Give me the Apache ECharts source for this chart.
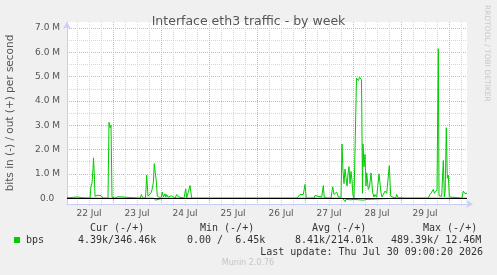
<!DOCTYPE html>
<html>
<head>
<meta charset="utf-8">
<script src="https://cdn.jsdelivr.net/npm/echarts/dist/echarts.min.js"></script>
<style>
  html, body { margin: 0; padding: 0; background: #f0f0f0; }
  #chart { width: 497px; height: 275px; }
</style>
</head>
<body>
<div id="chart"></div>
<script>
// x values are hours since 22 Jul 00:00, y values in Mbit/s
var dayLabels = ['22 Jul', '23 Jul', '24 Jul', '25 Jul', '26 Jul', '27 Jul', '28 Jul', '29 Jul'];
var dayLabelHours = [12, 36, 60, 84, 108, 132, 156, 180];
var dayLineHours = [24, 48, 72, 96, 120, 144, 168, 192];
var quarterLineHours = [6, 12, 18, 30, 36, 42, 54, 60, 66, 78, 84, 90, 102, 108, 114,
    126, 132, 138, 150, 156, 162, 174, 180, 186, 198];
var yTicks = [0, 1, 2, 3, 4, 5, 6, 7];
var yHalfTicks = [0.5, 1.5, 2.5, 3.5, 4.5, 5.5, 6.5];

// bits out (+)
var outTraffic = [
    [1, 0.03], [1.5, 0], [2.5, 0.02], [3.5, 0], [4.5, 0.04], [5.5, 0.03], [6.5, 0.05], [7, 0.03], [7.5, 0.08], [8, 0.02], [8.5, 0],
    [12.5, 0], [13, 0.5], [13.5, 0.63], [14, 1.2], [14.25, 1.66], [14.75, 0.77], [15, 0.08], [15.5, 0.02], [16, 0.1], [16.5, 0.12], [17, 0.05], [17.5, 0.12], [18, 0.1], [18.5, 0.03], [19, 0],
    [21.5, 0], [22, 3.12], [22.5, 2.9], [23, 3.0], [23.5, 0.05], [24, 0],
    [25, 0], [25.5, 0.07], [26, 0.02], [26.5, 0.06], [27, 0.06], [27.5, 0],
    [37.5, 0], [38.25, 0.15], [38.75, 0.02], [40.25, 0], [40.85, 0.95], [41.5, 0.08], [42, 0.05], [43, 0.22], [43.5, 0.35], [44.15, 0.63], [44.65, 1.42], [45.15, 1.04], [45.65, 0.7], [46.15, 0.08], [46.75, 0],
    [48, 0], [48.65, 0.25], [49.2, 0.05], [50, 0.18], [50.4, 0.05], [50.85, 0.15], [51.5, 0.04], [52.5, 0.06], [53.35, 0.1], [54, 0.03], [55, 0],
    [55.85, 0.15], [56.5, 0.06], [57.5, 0],
    [59.5, 0], [60.35, 0.38], [60.85, 0.01], [61.15, 0.08], [61.75, 0], [62.5, 0.52], [63.35, 0],
    [116, 0], [116.65, 0.05], [117.5, 0.15], [118.35, 0.08], [119.15, 0.15], [120, 0.56], [120.65, 0],
    [124.5, 0], [125, 0.11], [125.8, 0.03], [126.5, 0.08], [127, 0],
    [128.35, 0.05], [129.15, 0.52], [129.6, 0.04], [130, 0.08], [130.5, 0.02], [131, 0],
    [133, 0], [133.35, 0.08], [133.85, 0.47], [134.5, 0.15], [135.35, 0.22], [135.85, 0.25], [136.65, 0.05], [137.5, 0],
    [138, 0.04], [138.5, 2.23], [139, 1.1], [139.5, 0.6], [140, 1.2], [140.5, 0.85], [141, 0.5], [141.5, 1.0], [142, 1.3], [142.5, 0.6], [143, 1.1], [143.5, 0.75], [144, 0.1], [144.5, 0],
    [145.25, 0], [145.75, 4.94], [146.25, 4.92], [146.75, 4.84], [147.25, 4.98], [147.75, 4.9], [148.25, 4.87], [148.5, 4.94], [148.75, 0.2],
    [149, 2.23], [149.5, 1.3], [150, 1.8], [150.5, 0.5], [150.85, 1.04], [151.65, 0.36], [152.3, 0.5], [153, 1.04], [153.85, 0.22], [154.5, 0.05], [155, 0.15], [155.85, 0.04], [156.5, 0.05],
    [157, 1.0], [158, 0.22], [158.5, 0.05], [159.15, 0.1], [160, 0.29], [160.85, 0.2], [161.5, 0.25], [162.15, 1.34], [162.85, 0.08], [163.5, 0],
    [165.3, 0], [165.85, 0.15], [166.5, 0.02], [167, 0],
    [170.8, 0], [171.35, 0.06], [172, 0],
    [176, 0], [176.5, 0.04], [177, 0],
    [181.5, 0], [182, 0.06], [182.5, 0.15], [183.35, 0.25], [184.15, 0.36], [184.7, 0.2], [185.35, 0.22], [186, 0.35], [186.35, 0.3], [186.65, 6.15], [187, 0.1],
    [187.5, 0.12], [188.35, 0.08], [188.75, 0.1], [189.15, 1.55], [189.65, 0.05], [190.1, 0.3], [190.65, 2.9], [191.15, 0.82], [191.65, 0.95], [192.15, 0.05], [192.5, 0],
    [198.5, 0], [199.15, 0.29], [200, 0.19], [200.5, 0.25], [201, 0.2]
];

// bits in (-), drawn below zero
var inTraffic = [
    [1, 0], [1.5, 0.06], [2, 0], [7.5, 0], [8, 0.03], [8.5, 0], [14.8, 0], [15.2, 0.03], [15.6, 0],
    [22.2, 0], [22.8, 0.07], [23.3, 0], [44.3, 0], [44.8, 0.05], [45.4, 0.08], [45.9, 0], [48.6, 0], [49.1, 0.04], [49.6, 0],
    [138.8, 0], [139.15, 0.07], [139.6, 0.02], [140, 0.14], [140.5, 0.04], [141, 0.02], [142.5, 0.07], [143, 0.02], [144.2, 0.05],
    [145, 0.08], [149.15, 0.08], [149.6, 0.02], [151, 0.05], [151.5, 0],
    [166.1, 0], [166.35, 0.03], [166.8, 0], [171, 0], [171.35, 0.05], [171.8, 0],
    [186.5, 0], [186.9, 0.05], [187.3, 0], [191, 0], [191.3, 0.06], [191.8, 0], [201, 0]
];

var legendHeaders = ['Cur (-/+)', 'Min (-/+)', 'Avg (-/+)', 'Max (-/+)'];
var legendValues = ['4.39k/346.46k', '0.00 /  6.45k', '8.41k/214.01k', '489.39k/ 12.46M'];

function drawTraffic() {
    var myChart = echarts.init(document.getElementById('chart'));

    var green = '#00cc00';
    var axisBlue = '#c9cdf6';
    var majorGrid = { color: '#f0a8a8', width: 1, type: [1, 1] };
    var minorGrid = { color: '#d6d6d6', width: 1, type: [1, 1] };
    var mono = 'DejaVu Sans Mono';

    var inNegative = inTraffic.map(function (p) { return [p[0], -p[1]]; });

    var graphics = [
        {
            type: 'text', x: 487, y: 5, rotation: -Math.PI / 2,
            style: { text: 'RRDTOOL / TOBI OETIKER', fill: '#c8c8c8', font: '7.5px "DejaVu Sans"',
                align: 'left', verticalAlign: 'middle', textAlign: 'left', textVerticalAlign: 'middle' }
        },
        { type: 'rect', shape: { x: 14, y: 237, width: 6, height: 6 }, style: { fill: green } },
        {
            type: 'text', x: 26, y: 240,
            style: { text: 'bps', fill: '#333', font: '10px "' + mono + '"', verticalAlign: 'middle', textVerticalAlign: 'middle' }
        },
        {
            type: 'text', x: 483, y: 252,
            style: { text: 'Last update: Thu Jul 30 09:00:20 2026', fill: '#333', font: '10px "' + mono + '"',
                align: 'right', verticalAlign: 'middle', textAlign: 'right', textVerticalAlign: 'middle' }
        },
        {
            type: 'text', x: 248, y: 263,
            style: { text: 'Munin 2.0.76', fill: '#c4c4c4', font: '8px "DejaVu Sans"',
                align: 'center', verticalAlign: 'middle', textAlign: 'center', textVerticalAlign: 'middle' }
        }
    ];
    var headerX = [90, 200, 312, 423];
    var valueX = [78, 187, 295, 391];
    for (var i = 0; i < legendHeaders.length; i++) {
        graphics.push({
            type: 'text', x: headerX[i], y: 228,
            style: { text: legendHeaders[i], fill: '#333', font: '10px "' + mono + '"', verticalAlign: 'middle', textVerticalAlign: 'middle' }
        });
        graphics.push({
            type: 'text', x: valueX[i], y: 240,
            style: { text: legendValues[i], fill: '#333', font: '10px "' + mono + '"', verticalAlign: 'middle', textVerticalAlign: 'middle' }
        });
    }

    var option = {
        animation: false,
        backgroundColor: '#f0f0f0',
        title: {
            text: 'Interface eth3 traffic - by week',
            left: 'center',
            top: 10,
            textStyle: { color: '#555', fontFamily: 'DejaVu Sans', fontWeight: 'normal', fontSize: 12.5 }
        },
        grid: {
            show: true,
            backgroundColor: '#ffffff',
            borderWidth: 0,
            outerBoundsMode: 'none',
            containLabel: false,
            left: 67,
            right: 30,
            top: 22,
            bottom: 71
        },
        xAxis: [
            {
                type: 'value',
                min: 1,
                max: 201,
                position: 'bottom',
                axisLine: { show: true, onZero: false, symbol: ['none', 'arrow'], symbolSize: [6, 7], symbolOffset: [0, 6],
                    lineStyle: { color: axisBlue, width: 1 } },
                axisTick: { show: true, length: 2, customValues: quarterLineHours, lineStyle: { color: '#d0d0d0' } },
                axisLabel: {
                    show: true,
                    customValues: dayLabelHours,
                    color: '#555',
                    fontFamily: 'DejaVu Sans',
                    fontSize: 9,
                    margin: 5,
                    formatter: function (v) { return dayLabels[Math.round((v - 12) / 24)]; }
                },
                splitLine: { show: true, lineStyle: minorGrid }
            },
            {
                type: 'value',
                min: 1,
                max: 201,
                position: 'bottom',
                axisLine: { show: false },
                axisTick: { show: true, length: 2, customValues: dayLineHours, lineStyle: { color: '#f0a0a0' } },
                axisLabel: { show: false },
                splitLine: { show: true, lineStyle: majorGrid }
            }
        ],
        yAxis: [
            {
                type: 'value',
                min: -0.24,
                max: 7.25,
                name: 'bits in (-) / out (+) per second',
                nameLocation: 'middle',
                nameRotate: 90,
                nameGap: 51,
                nameTextStyle: { color: '#555', fontFamily: 'DejaVu Sans', fontSize: 10.5 },
                axisLine: { show: true, symbol: ['none', 'arrow'], symbolSize: [6, 7],
                    lineStyle: { color: axisBlue, width: 1 } },
                axisTick: { show: false, customValues: yTicks },
                axisLabel: {
                    customValues: yTicks,
                    color: '#555',
                    fontFamily: 'DejaVu Sans',
                    fontSize: 9,
                    margin: 7,
                    formatter: function (v) { return v === 0 ? '0.0  ' : v.toFixed(1) + ' M'; }
                },
                splitLine: { show: true, lineStyle: majorGrid }
            },
            {
                type: 'value',
                min: -0.24,
                max: 7.25,
                position: 'left',
                axisLine: { show: false },
                axisTick: { show: false, customValues: yHalfTicks },
                axisLabel: { show: false, customValues: yHalfTicks },
                splitLine: { show: true, lineStyle: minorGrid }
            }
        ],
        graphic: graphics,
        series: [
            {
                name: 'out',
                type: 'line',
                xAxisIndex: 0,
                yAxisIndex: 0,
                showSymbol: false,
                symbol: 'none',
                silent: true,
                lineStyle: { color: green, width: 1 },
                data: outTraffic
            },
            {
                name: 'in',
                type: 'line',
                xAxisIndex: 0,
                yAxisIndex: 0,
                showSymbol: false,
                symbol: 'none',
                silent: true,
                lineStyle: { color: green, width: 1 },
                data: inNegative,
                markLine: {
                    silent: true,
                    symbol: ['none', 'none'],
                    label: { show: false },
                    lineStyle: { color: '#000', width: 1.2, type: 'solid' },
                    data: [{ yAxis: 0 }]
                }
            }
        ]
    };

    myChart.setOption(option);
}

drawTraffic();
</script>
</body>
</html>
